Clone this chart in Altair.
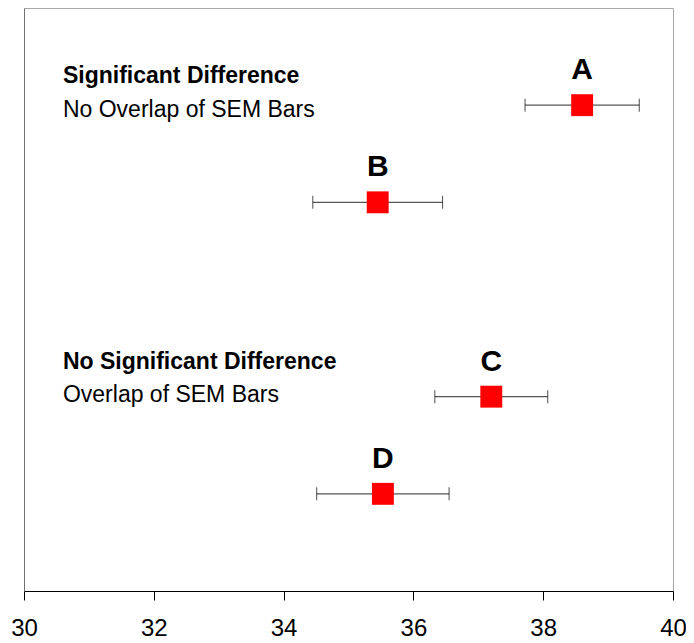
import altair as alt
import pandas as pd

labels = ["A", "B", "C", "D"]
means = [38.6, 35.45, 37.2, 35.53]
sem = [0.88, 1.0, 0.87, 1.02]
rows = [5, 4, 2, 1]

note_titles = ["Significant Difference", "No Significant Difference"]
note_subs = ["No Overlap of SEM Bars", "Overlap of SEM Bars"]
note_x = [30.6, 30.6]
note_title_y = [5.233, 2.285]
note_sub_y = [4.883, 1.948]

x_ticks = [30, 32, 34, 36, 38, 40]

df = pd.DataFrame({
    "label": labels,
    "mean": means,
    "lo": [m - s for m, s in zip(means, sem)],
    "hi": [m + s for m, s in zip(means, sem)],
    "row": rows,
})
titles_df = pd.DataFrame({"x": note_x, "y": note_title_y, "text": note_titles})
subs_df = pd.DataFrame({"x": note_x, "y": note_sub_y, "text": note_subs})

FONT = "Liberation Sans"
xs = alt.Scale(domain=[30, 40], nice=False, zero=False)
ys = alt.Scale(domain=[0, 6], nice=False, zero=False)

xaxis = alt.Axis(
    values=x_ticks, title=None, grid=False, domainColor="#000000",
    tickColor="#000000", tickSize=9, labelFontSize=24, labelFont=FONT,
    labelColor="#000000", labelPadding=16, labelFlush=False)
yaxis = alt.Axis(title=None, grid=False, labels=False, ticks=False,
                 domainColor="#707070")


def X(field):
    return alt.X(field, scale=xs, axis=xaxis)


def Y(field):
    return alt.Y(field, scale=ys, axis=yaxis)


base = alt.Chart(df)

line = base.mark_rule(color="#555555", strokeWidth=1.2).encode(
    x=X("lo:Q"), x2="hi:Q", y=Y("row:Q"))
cap_lo = base.mark_tick(orient="vertical", color="#000000", size=13, thickness=1).encode(
    x=X("lo:Q"), y=Y("row:Q"))
cap_hi = base.mark_tick(orient="vertical", color="#000000", size=13, thickness=1).encode(
    x=X("hi:Q"), y=Y("row:Q"))
pts = base.mark_square(color="#ff0000", opacity=1, size=480).encode(
    x=X("mean:Q"), y=Y("row:Q"))
lbl = base.mark_text(font=FONT, fontSize=30, fontWeight="bold", color="#000000",
                     baseline="alphabetic", dy=-26).encode(
    x=X("mean:Q"), y=Y("row:Q"), text="label:N")

t1 = alt.Chart(titles_df).mark_text(font=FONT, fontSize=23, fontWeight="bold",
                                    color="#000000", align="left",
                                    baseline="alphabetic").encode(
    x=X("x:Q"), y=Y("y:Q"), text="text:N")
t2 = alt.Chart(subs_df).mark_text(font=FONT, fontSize=23, color="#000000",
                                  align="left", baseline="alphabetic").encode(
    x=X("x:Q"), y=Y("y:Q"), text="text:N")

chart = alt.layer(line, cap_lo, cap_hi, pts, lbl, t1, t2).properties(
    width=649, height=583,
    background="#ffffff",
    autosize=alt.AutoSizeParams(type="none"),
    padding={"left": 16, "top": 0, "right": 13, "bottom": 50},
).configure_view(stroke="#a8a8a8", strokeWidth=1)

chart.save("out.html", embed_options={"renderer": "svg", "actions": False})
